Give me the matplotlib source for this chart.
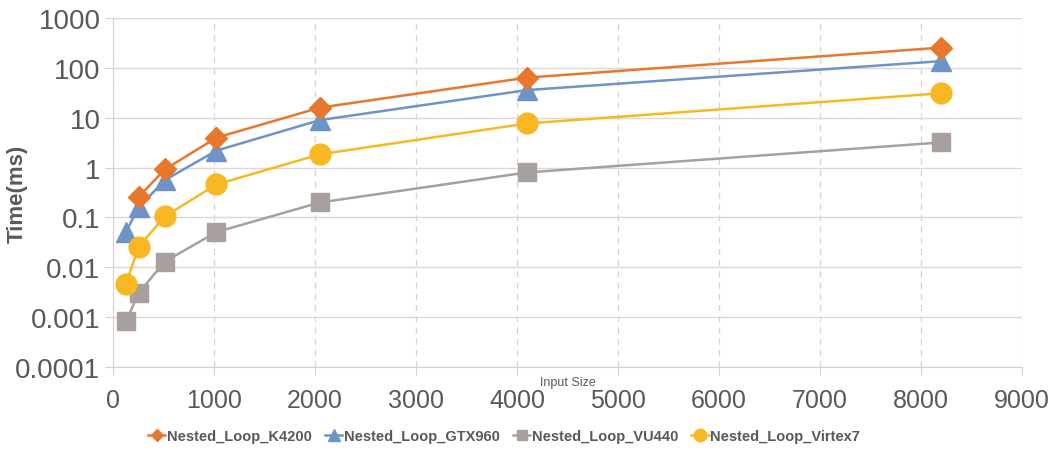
import numpy as np
import matplotlib.pyplot as plt
from matplotlib.ticker import FixedLocator, FixedFormatter, NullLocator

plt.rcParams['font.family'] = ['Liberation Sans', 'DejaVu Sans']

# data
sizes = [128, 256, 512, 1024, 2048, 4096, 8192]
k4200_x = [256, 512, 1024, 2048, 4096, 8192]
k4200 = [0.26, 0.92, 4.0, 16.0, 64.0, 256.0]
gtx960 = [0.052, 0.16, 0.56, 2.2, 9.0, 36.0, 137.0]
vu440 = [0.00082, 0.0031, 0.013, 0.051, 0.2, 0.8, 3.2]
virtex7 = [0.0047, 0.026, 0.105, 0.46, 1.85, 7.7, 31.0]

labels = ['Nested_Loop_K4200', 'Nested_Loop_GTX960', 'Nested_Loop_VU440', 'Nested_Loop_Virtex7']
xticks = [0, 1000, 2000, 3000, 4000, 5000, 6000, 7000, 8000, 9000]
yticks = [0.0001, 0.001, 0.01, 0.1, 1, 10, 100, 1000]
ytick_labels = ['0.0001', '0.001', '0.01', '0.1', '1', '10', '100', '1000']

fig = plt.figure(figsize=(10.56, 4.56), dpi=100)
ax = fig.add_axes([0.107, 0.193, 0.861, 0.765])

ax.plot(k4200_x, k4200, color='#E8772E', marker='D', markersize=11, lw=1.8, label=labels[0], zorder=5)
ax.plot(sizes, gtx960, color='#6E93C6', marker='^', markersize=14, lw=1.8, label=labels[1], zorder=4)
ax.plot(sizes, vu440, color='#A8A09D', marker='s', markersize=13, lw=1.8, label=labels[2], zorder=3)
ax.plot(sizes, virtex7, color='#F7B823', marker='o', markersize=15, lw=1.8, label=labels[3], zorder=4)

ax.set_yscale('log')
ax.set_ylim(0.0001, 1000)
ax.set_xlim(0, 9000)
ax.yaxis.set_major_locator(FixedLocator(yticks))
ax.yaxis.set_major_formatter(FixedFormatter(ytick_labels))
ax.yaxis.set_minor_locator(NullLocator())
ax.set_xticks(xticks)

ax.grid(axis='y', color='#DDD8D6', lw=1.0)
ax.grid(axis='x', color='#D9D4D2', lw=0.9, ls=(0, (5, 4)))
ax.set_axisbelow(True)

for s in ['top', 'right']:
    ax.spines[s].set_visible(False)
ax.spines['left'].set_color('#D6D1CF')
ax.spines['bottom'].set_color('#D6D1CF')

ax.tick_params(axis='y', colors='#D6D1CF', labelcolor='#595959', labelsize=20, length=6, pad=3)
ax.tick_params(axis='x', colors='#D6D1CF', labelcolor='#595959', labelsize=18, length=6, pad=9)

ax.set_ylabel('Time(ms)', fontsize=16, fontweight='bold', color='#595959')
ax.yaxis.set_label_coords(-0.094, 0.5)
ax.text(0.5, -0.025, 'Input Size', transform=ax.transAxes, ha='center', va='top',
        fontsize=9, color='#595959')

ax.legend(loc='center', bbox_to_anchor=(0.43, -0.198), ncol=4, frameon=False,
          handlelength=1.2, handletextpad=0.1, columnspacing=0.9,
          markerscale=0.6, labelcolor='#595959',
          prop={'weight': 'bold', 'size': 10.5})

fig.savefig('out.png', dpi=100)
